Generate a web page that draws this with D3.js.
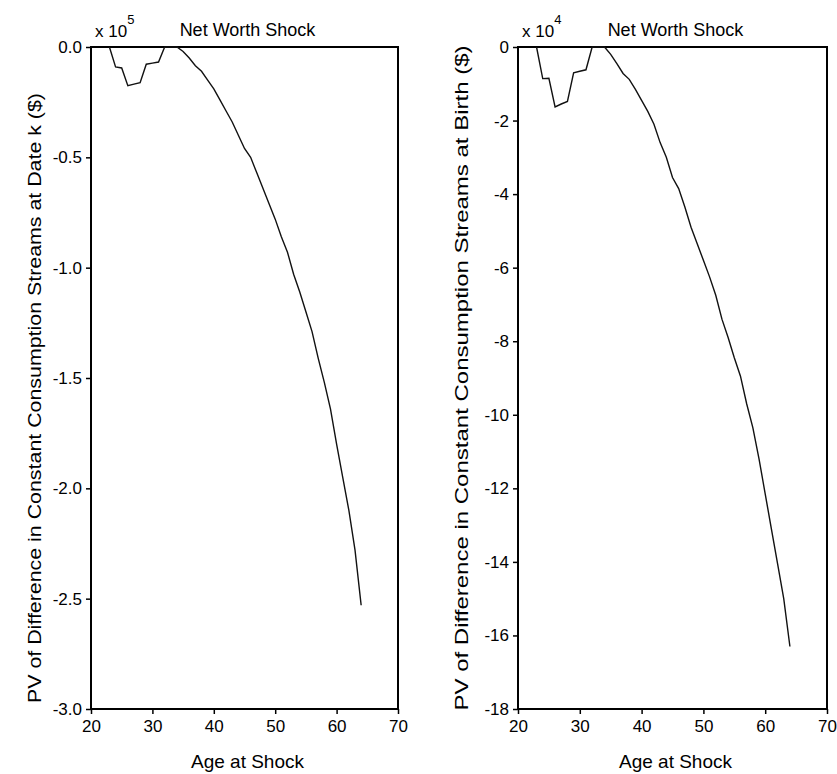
<!DOCTYPE html>
<html>
<head>
<meta charset="utf-8">
<script src="https://cdn.jsdelivr.net/npm/d3@7"></script>
<style>
  html, body { margin: 0; padding: 0; background: #fff; }
  svg { display: block; font-family: "Liberation Sans", Arial, Helvetica, sans-serif; }
</style>
</head>
<body>
<svg id="chart" width="837" height="774"></svg>
<script>
// Ages at shock
const ages = [23,24,25,26,27,28,29,30,31,32,33,34,35,36,37,38,39,40,41,42,43,44,45,46,47,48,49,50,51,52,53,54,55,56,57,58,59,60,61,62,63,64];
// Left panel: PV at date k (x 10^5 $)
const pvDateK = [0,-0.09,-0.095,-0.175,-0.168,-0.162,-0.078,-0.073,-0.068,0,0,0,-0.02,-0.05,-0.085,-0.11,-0.15,-0.19,-0.24,-0.29,-0.34,-0.40,-0.46,-0.50,-0.57,-0.64,-0.71,-0.78,-0.86,-0.93,-1.03,-1.11,-1.20,-1.29,-1.41,-1.52,-1.64,-1.80,-1.95,-2.10,-2.28,-2.53];
// Right panel: PV at birth (x 10^4 $)
const pvBirth = [0,-0.86,-0.85,-1.63,-1.55,-1.48,-0.70,-0.66,-0.62,0,0,0,-0.2,-0.45,-0.72,-0.88,-1.15,-1.45,-1.75,-2.1,-2.6,-3.0,-3.55,-3.85,-4.35,-4.9,-5.35,-5.8,-6.25,-6.75,-7.4,-7.9,-8.45,-8.95,-9.7,-10.35,-11.2,-12.15,-13.1,-14.05,-15.0,-16.3];

const xTicks = [20,30,40,50,60,70];
const leftYTicks = [0,-0.5,-1.0,-1.5,-2.0,-2.5,-3.0];
const rightYTicks = [0,-2,-4,-6,-8,-10,-12,-14,-16,-18];

const titleText = "Net Worth Shock";
const xLabel = "Age at Shock";
const leftYLabel = "PV of Difference in Constant Consumption Streams at Date k ($)";
const rightYLabel = "PV of Difference in Constant Consumption Streams at Birth ($)";

const svg = d3.select("#chart");

function panel(cfg) {
  const x = d3.scaleLinear().domain([20, 70]).range([cfg.left, cfg.right]);
  const y = d3.scaleLinear().domain(cfg.yDomain).range([cfg.bottom, cfg.top]);
  const g = svg.append("g");

  // x axis
  const xa = g.append("g").attr("transform", `translate(0,${cfg.bottom})`)
    .call(d3.axisBottom(x).tickValues(xTicks).tickSize(5).tickPadding(6).tickFormat(d3.format("d")));
  // y axis
  const ya = g.append("g").attr("transform", `translate(${cfg.left},0)`)
    .call(d3.axisLeft(y).tickValues(cfg.yTicks).tickSize(5).tickPadding(4)
      .tickFormat(d => cfg.fmt(d).replace("\u2212", "-")));
  [xa, ya].forEach(a => {
    a.select(".domain").remove();
    a.selectAll("line").attr("stroke", "#000").attr("stroke-width", 1.5);
    a.selectAll("text").attr("fill", "#000").style("font-size", "17px")
      .style("font-family", '"Liberation Sans", Arial, sans-serif');
  });

  // frame
  g.append("rect")
    .attr("x", cfg.left).attr("y", cfg.top)
    .attr("width", cfg.right - cfg.left).attr("height", cfg.bottom - cfg.top)
    .attr("fill", "none").attr("stroke", "#000").attr("stroke-width", 2);

  // line
  const line = d3.line().x((d, i) => x(ages[i])).y(d => y(d));
  g.append("path").datum(cfg.values)
    .attr("d", line).attr("fill", "none").attr("stroke", "#111").attr("stroke-width", 1.4);

  // title
  g.append("text").attr("x", (cfg.left + cfg.right) / 2 + 3).attr("y", 36)
    .attr("text-anchor", "middle").style("font-size", "18px").text(titleText);

  // exponent marker
  const ex = g.append("text").attr("x", cfg.left + 4).attr("y", 37).style("font-size", "17px");
  ex.append("tspan").text("x 10");
  ex.append("tspan").attr("dy", -13).style("font-size", "13px").text(cfg.exp);

  // x label
  g.append("text").attr("x", (cfg.left + cfg.right) / 2 + 3).attr("y", 768)
    .attr("text-anchor", "middle").style("font-size", "19px").text(xLabel);

  // y label
  g.append("text")
    .attr("transform", `translate(${cfg.yLabelX},${cfg.yLabelY}) rotate(-90)`)
    .attr("text-anchor", "middle").style("font-size", "19px")
    .attr("textLength", cfg.yLabelLen).attr("lengthAdjust", "spacingAndGlyphs")
    .text(cfg.yLabel);
}

panel({
  left: 91, right: 398, top: 47, bottom: 709,
  yDomain: [-3, 0], yTicks: leftYTicks, fmt: d3.format(".1f"),
  values: pvDateK, exp: "5", yLabel: leftYLabel, yLabelX: 41, yLabelY: 398, yLabelLen: 610
});
panel({
  left: 518, right: 827, top: 47, bottom: 709,
  yDomain: [-18, 0], yTicks: rightYTicks, fmt: d3.format("d"),
  values: pvBirth, exp: "4", yLabel: rightYLabel, yLabelX: 468, yLabelY: 378, yLabelLen: 665
});
</script>
</body>
</html>
